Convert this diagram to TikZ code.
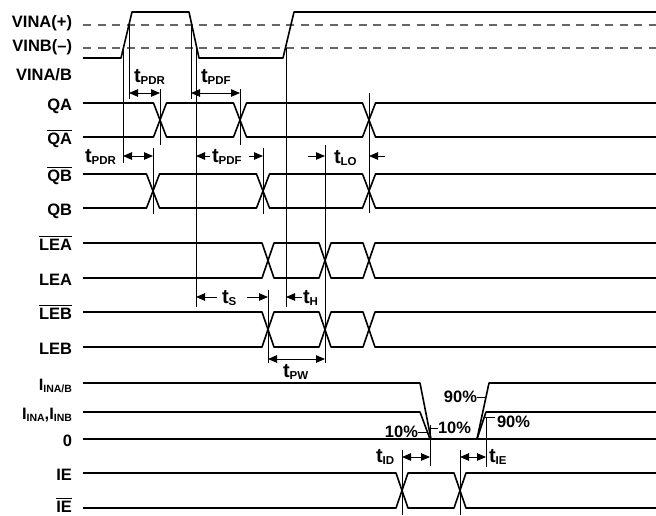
\documentclass[tikz,border=0pt]{standalone}
\usepackage{fontspec}
\setmainfont{Liberation Sans}
\usetikzlibrary{arrows.meta}
\newcommand\sbx[1]{\raisebox{-2.2pt}{\fontsize{10.5}{10.5}\selectfont #1}}
\newcommand\tsb[1]{{\fontsize{20}{20}\selectfont t}\raisebox{-2.4pt}{\fontsize{11.5}{11.5}\selectfont #1}}
\newcommand\ovl[1]{\leavevmode\vbox{\hrule height 1.3pt\kern1.6pt\hbox{#1}}}
\begin{document}
\begin{tikzpicture}[x=1pt,y=-1pt,
 every node/.style={inner sep=0pt,outer sep=0pt,font=\fontsize{16.5}{16.5}\selectfont\bfseries},
 lbl/.style={anchor=base east},
 tl/.style={anchor=base west},
 wave/.style={line width=1.6pt,line join=round},
 vline/.style={line width=0.75pt},
 refline/.style={line width=1.4pt,draw=black!60,dash pattern=on 8pt off 6.5pt},
 dbl/.style={line width=0.9pt,{Triangle[length=9pt,width=7.5pt]}-{Triangle[length=9pt,width=7.5pt]}},
 sgl/.style={line width=0.9pt,-{Triangle[length=9pt,width=7.5pt]}},
 leader/.style={line width=0.75pt},
]
\useasboundingbox (0,0) rectangle (656,515);

% signal labels
\node[lbl] (lvinap) at (72,27) {VINA(+)};
\node[lbl] (lvinbm) at (72,51) {VINB(–)};
\node[lbl] (lvinab) at (72,80) {VINA/B};
\node[lbl] (lqa) at (72,110) {QA};
\node[lbl] (lqab) at (72,144) {\ovl{QA}};
\node[lbl] (lqbb) at (72,181) {\ovl{QB}};
\node[lbl] (lqb) at (72,215) {QB};
\node[lbl] (lleab) at (72,250) {\ovl{LEA}};
\node[lbl] (llea) at (72,285) {LEA};
\node[lbl] (llebb) at (72,319) {\ovl{LEB}};
\node[lbl] (lleb) at (72,354) {LEB};
\node[lbl] (liab) at (72,390) {I\sbx{INA/B}};
\node[lbl] (liaib) at (72,419) {I\sbx{INA},I\sbx{INB}};
\node[lbl] (lzero) at (72,446) {0};
\node[lbl] (lie) at (72,480) {IE};
\node[lbl] (lieb) at (72,512) {\ovl{IE}};

% reference levels
\draw[refline] (83,25) -- (656,25);
\draw[refline] (83,48) -- (656,48);

% input waveform
\draw[wave] (83,58) -- (121,58) -- (132,12) -- (189,12) -- (199,58) -- (283,58) -- (294,12) -- (656,12);

% QA / QA bar
\draw[wave] (83,103) -- (153.5,103) -- (166.5,137) -- (233.5,137) -- (246.5,103) -- (362.5,103) -- (375.5,137) -- (656,137);
\draw[wave] (83,137) -- (153.5,137) -- (166.5,103) -- (233.5,103) -- (246.5,137) -- (362.5,137) -- (375.5,103) -- (656,103);
% QB bar / QB
\draw[wave] (83,174) -- (146.5,174) -- (159.5,208) -- (256.5,208) -- (269.5,174) -- (362.5,174) -- (375.5,208) -- (656,208);
\draw[wave] (83,208) -- (146.5,208) -- (159.5,174) -- (256.5,174) -- (269.5,208) -- (362.5,208) -- (375.5,174) -- (656,174);
% LEA bar / LEA
\draw[wave] (83,243) -- (262,243) -- (274,278) -- (319,278) -- (331,243) -- (363,243) -- (375,278) -- (656,278);
\draw[wave] (83,278) -- (262,278) -- (274,243) -- (319,243) -- (331,278) -- (363,278) -- (375,243) -- (656,243);
% LEB bar / LEB
\draw[wave] (83,312) -- (262,312) -- (274,347) -- (319,347) -- (331,312) -- (363,312) -- (375,347) -- (656,347);
\draw[wave] (83,347) -- (262,347) -- (274,312) -- (319,312) -- (331,347) -- (363,347) -- (375,312) -- (656,312);
% currents
\draw[wave] (83,383) -- (420,383) -- (431,439) -- (477,439) -- (489,383) -- (656,383);
\draw[wave] (83,412) -- (420,412) -- (430,439) -- (477,439) -- (486,412) -- (656,412);
\draw[wave] (83,439) -- (656,439);
% IE / IE bar
\draw[wave] (83,473) -- (396,473) -- (408,508) -- (454,508) -- (466,473) -- (656,473);
\draw[wave] (83,508) -- (396,508) -- (408,473) -- (454,473) -- (466,508) -- (656,508);

% vertical reference lines
\draw[vline] (123,48) -- (123,163);
\draw[vline] (129,25) -- (129,99);
\draw[vline] (160,89) -- (160,145);
\draw[vline] (191,25) -- (191,99);
\draw[vline] (196,48) -- (196,307);
\draw[vline] (240,89) -- (240,145);
\draw[vline] (153,148) -- (153,214);
\draw[vline] (263,148) -- (263,214);
\draw[vline] (286,48) -- (286,307);
\draw[vline] (325,145) -- (325,363);
\draw[vline] (369,93) -- (369,213);
\draw[vline] (268,290) -- (268,363);
\draw[vline] (402,450) -- (402,515);
\draw[vline] (460,450) -- (460,515);
\draw[vline] (430,425) -- (430,466);
\draw[vline] (486,417) -- (486,467);

% timing arrows
\draw[dbl] (129,93) -- (160,93);
\draw[dbl] (191,93) -- (240,93);
\draw[dbl] (123,156) -- (153,156);
\draw[sgl] (210,156) -- (196,156);
\draw[sgl] (249,156) -- (263,156);
\draw[sgl] (308,156) -- (325,156);
\draw[sgl] (385,156) -- (369,156);
\draw[sgl] (217,297) -- (196,297);
\draw[sgl] (247,297) -- (268,297);
\draw[sgl] (302,297) -- (286,297);
\draw[dbl] (268,359) -- (325,359);
\draw[dbl] (402,457) -- (430,457);
\draw[dbl] (460,457) -- (486,457);

% timing labels
\node[tl] (tpdr1) at (134,82) {\tsb{PDR}};
\node[tl] (tpdf1) at (201,82) {\tsb{PDF}};
\node[tl] (tpdr2) at (85,162) {\tsb{PDR}};
\node[tl] (tpdf2) at (212,162) {\tsb{PDF}};
\node[tl] (tlo) at (334,163) {\tsb{LO}};
\node[tl] (ts) at (222,303) {\tsb{S}};
\node[tl] (th) at (303,303) {\tsb{H}};
\node[tl] (tpw) at (283,377) {\tsb{PW}};
\node[tl] (tid) at (376,462) {\tsb{ID}};
\node[tl] (tie) at (489,462) {\tsb{IE}};

% percentage labels
\node[anchor=base east] (p10a) at (418,437) {10\%};
\draw[leader] (p10a.base east) ++(0,-5) -- ++(9,0);
\node[anchor=base west] (p10b) at (438,433) {10\%};
\draw[leader] (p10b.base west) ++(0,-5) -- ++(-8,0);
\node[anchor=base east] (p90a) at (477,402) {90\%};
\draw[leader] (p90a.base east) ++(0,-5) -- ++(9,0);
\node[anchor=base west] (p90b) at (497,427) {90\%};
\draw[leader] (p90b.base west) ++(-2,-10) -- ++(-10,0);
\end{tikzpicture}
\end{document}
